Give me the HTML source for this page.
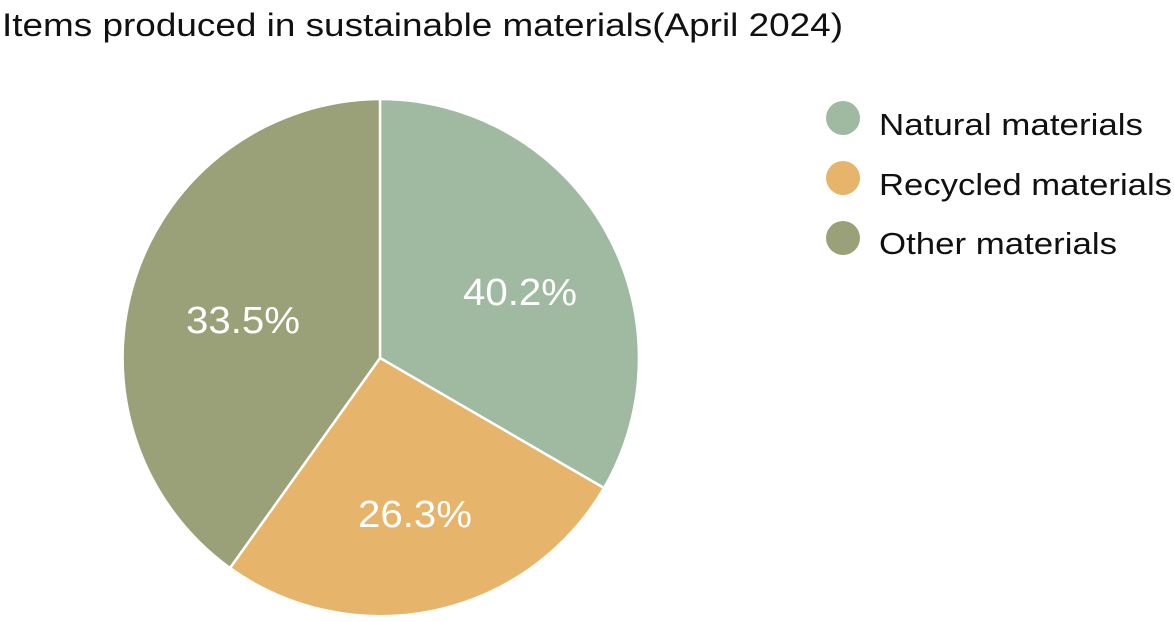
<!DOCTYPE html>
<html><head><meta charset="utf-8"><style>
body{margin:0;background:#fff;width:1174px;height:617px;overflow:hidden;font-family:"Liberation Sans",sans-serif}
</style></head><body>
<svg width="1174" height="617" xmlns="http://www.w3.org/2000/svg" font-family="Liberation Sans, sans-serif">
<text x="2" y="36" font-size="32" fill="#111" textLength="841" lengthAdjust="spacingAndGlyphs">Items produced in sustainable materials(April 2024)</text>
<g stroke="#fff" stroke-width="2.5" stroke-linejoin="round">
<path d="M380,358 L380,99 A259,259 0 0 1 604,488 Z" fill="#a0b9a1"/>
<path d="M380,358 L604,488 A259,259 0 0 1 230,568 Z" fill="#e6b46a"/>
<path d="M380,358 L230,568 A259,259 0 0 1 380,99 Z" fill="#9aa077"/>
</g>
<g fill="#fff" font-size="38" text-anchor="middle">
<text x="520" y="305" textLength="114" lengthAdjust="spacingAndGlyphs">40.2%</text>
<text x="415" y="527" textLength="114" lengthAdjust="spacingAndGlyphs">26.3%</text>
<text x="243" y="333" textLength="114" lengthAdjust="spacingAndGlyphs">33.5%</text>
</g>
<circle cx="843" cy="118" r="17" fill="#a0b9a1"/>
<circle cx="843" cy="178" r="17" fill="#e6b46a"/>
<circle cx="843" cy="238" r="17" fill="#9aa077"/>
<g font-size="31" fill="#111">
<text x="879" y="135" textLength="264" lengthAdjust="spacingAndGlyphs">Natural materials</text>
<text x="879" y="195" textLength="293" lengthAdjust="spacingAndGlyphs">Recycled materials</text>
<text x="879" y="254" textLength="238" lengthAdjust="spacingAndGlyphs">Other materials</text>
</g>
</svg>
</body></html>
